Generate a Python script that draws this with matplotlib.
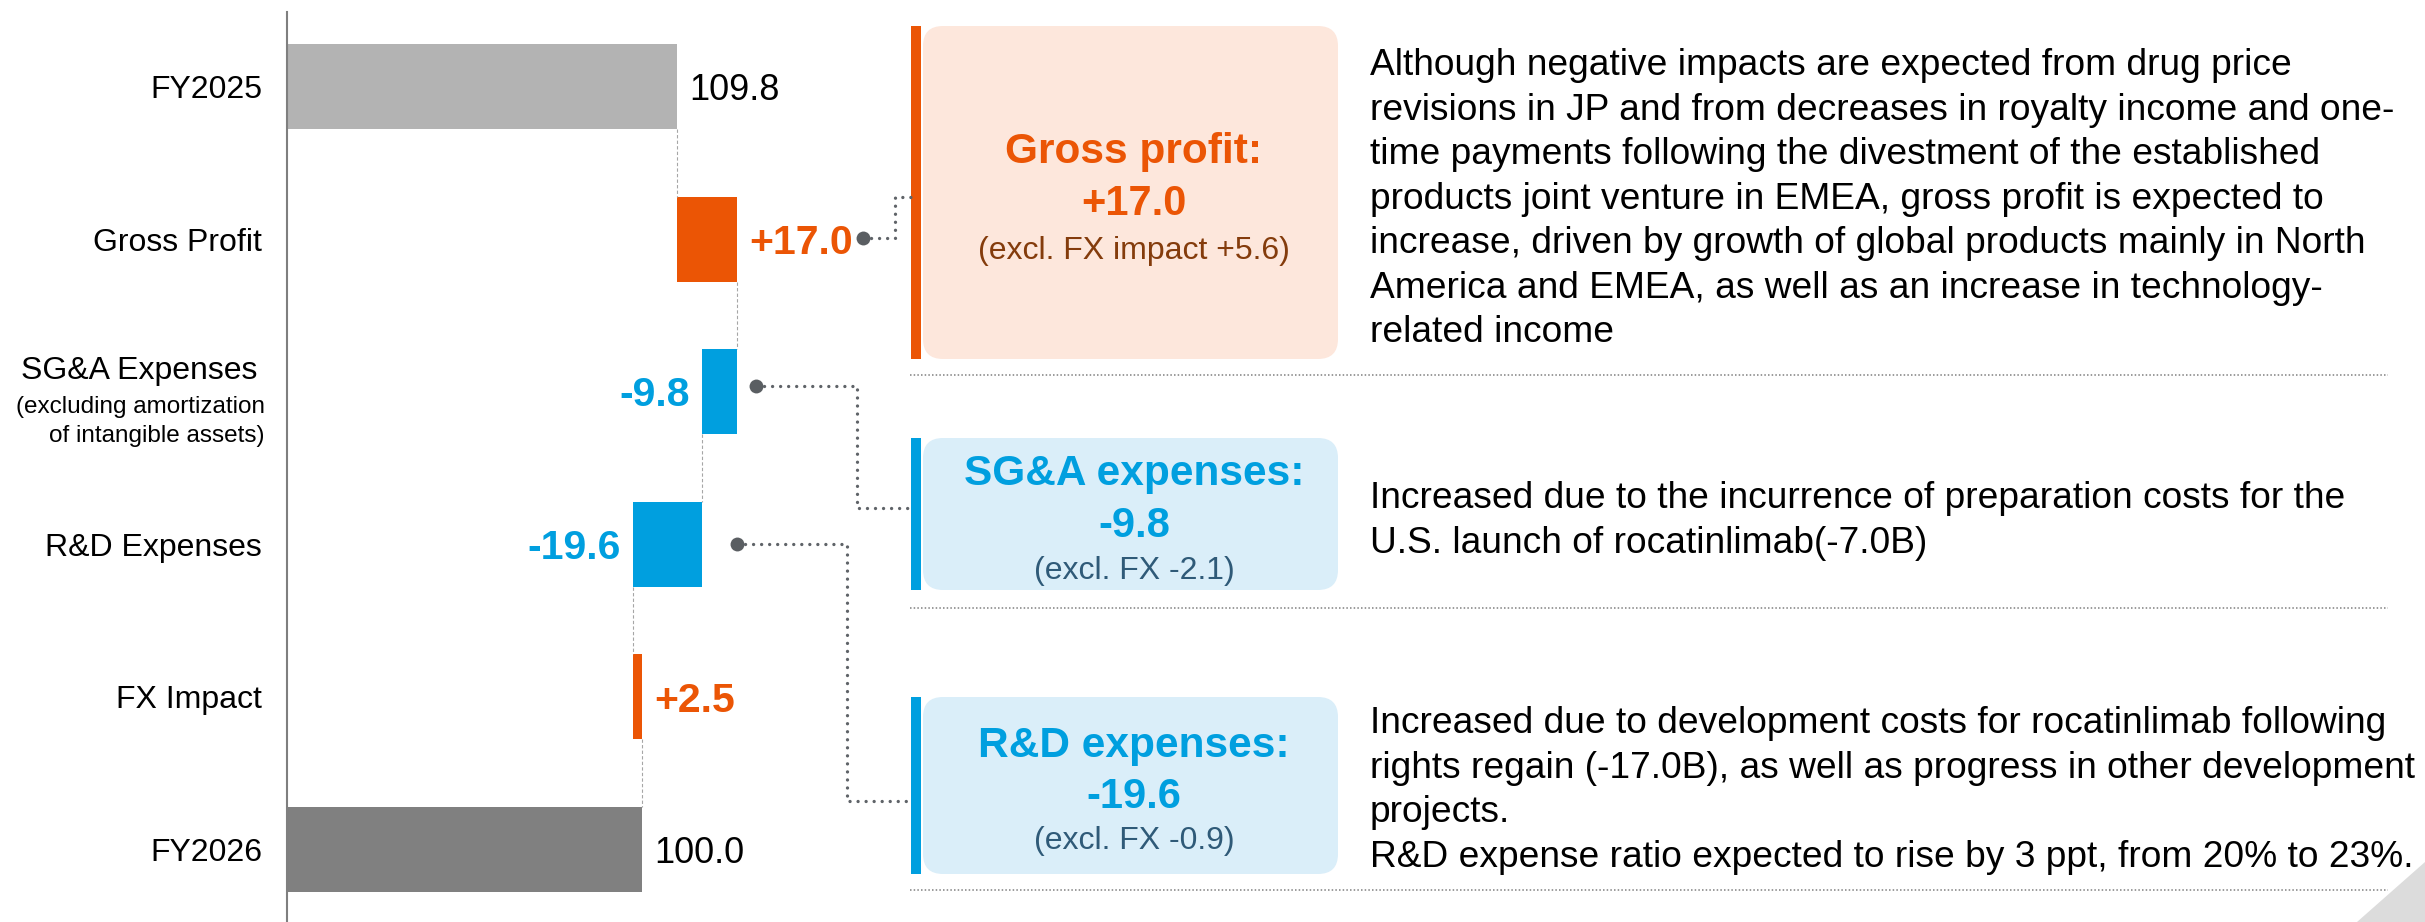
import matplotlib
matplotlib.use("Agg")
import matplotlib.pyplot as plt
from matplotlib.patches import FancyBboxPatch, Rectangle, Polygon

plt.rcParams['font.family'] = ['Liberation Sans', 'DejaVu Sans']

# ---- data ----
categories = ["FY2025", "Gross Profit", "SG&A Expenses", "R&D Expenses", "FX Impact", "FY2026"]
changes = [109.8, 17.0, -9.8, -19.6, 2.5, 100.0]
is_total = [True, False, False, False, False, True]
value_labels = ["109.8", "+17.0", "-9.8", "-19.6", "+2.5", "100.0"]
sga_note_label = ["(excluding amortization", "of intangible assets)"]

box_titles = ["Gross profit:", "SG&A expenses:", "R&D expenses:"]
box_values = ["+17.0", "-9.8", "-19.6"]
box_subs = ["(excl. FX impact +5.6)", "(excl. FX -2.1)", "(excl. FX -0.9)"]

gross_note = [
    "Although negative impacts are expected from drug price",
    "revisions in JP and from decreases in royalty income and one-",
    "time payments following the divestment of the established",
    "products joint venture in EMEA, gross profit is expected to",
    "increase, driven by growth of global products mainly in North",
    "America and EMEA, as well as an increase in technology-",
    "related income",
]
sga_note = [
    "Increased due to the incurrence of preparation costs for the",
    "U.S. launch of rocatinlimab(-7.0B)",
]
rd_note = [
    "Increased due to development costs for rocatinlimab following",
    "rights regain (-17.0B), as well as progress in other development",
    "projects.",
    "R&D expense ratio expected to rise by 3 ppt, from 20% to 23%.",
]

# ---- colours ----
ORANGE = "#eb5505"
BLUE = "#009fdf"
GREY1 = "#b3b3b3"
GREY2 = "#808080"

W, H = 2425, 922
fig = plt.figure(figsize=(W / 100, H / 100), dpi=100)

# waterfall axes: zero at x=287px, 3.55 px per unit; rows 152.6 px apart
x0, ppu = 287, 3.55
xmax = 180
row0, pitch = 86.5, 152.6
top_px = 12
ax = fig.add_axes([x0 / W, 0, xmax * ppu / W, (H - top_px) / H])
ax.set_xlim(0, xmax)
ax.set_ylim((H - row0) / pitch, (top_px - row0) / pitch)
for s in ["top", "right", "bottom"]:
    ax.spines[s].set_visible(False)
ax.spines["left"].set_color("#7f7f7f")
ax.spines["left"].set_linewidth(1.5)
ax.set_xticks([])
ax.set_yticks([])
ax.patch.set_visible(False)

bar_h = 0.557
run = 0.0
ends = []
for i, (cat, chg, tot, lab) in enumerate(zip(categories, changes, is_total, value_labels)):
    if tot:
        left, width = 0, chg
        color = GREY1 if i == 0 else GREY2
        run = chg
        fs, fw, tc = 26, "normal", "black"
    else:
        left = min(run, run + chg)
        width = abs(chg)
        color = ORANGE if chg > 0 else BLUE
        run = run + chg
        fs, fw, tc = 29.5, "bold", color
    ax.barh(i, width, left=left, height=bar_h, color=color, edgecolor="none")
    ends.append(run)
    if tot or chg > 0:
        ax.annotate(lab, xy=(left + width, i), xytext=(9, -0.36 * fs), textcoords="offset points",
                    ha="left", va="baseline", fontsize=fs, fontweight=fw, color=tc)
    else:
        ax.annotate(lab, xy=(left, i), xytext=(-9, -0.36 * fs), textcoords="offset points",
                    ha="right", va="baseline", fontsize=fs, fontweight=fw, color=tc)
    # category label
    if cat.startswith("SG&A"):
        ax.annotate(cat, xy=(0, i), xycoords=("axes fraction", "data"), xytext=(-21, 17.5 - 0.36 * 23),
                    textcoords="offset points", ha="right", va="baseline", fontsize=23)
        for k, sub in enumerate(sga_note_label):
            ax.annotate(sub, xy=(0, i), xycoords=("axes fraction", "data"),
                        xytext=(-16, -9 - 21 * k - 0.36 * 17.5), textcoords="offset points",
                        ha="right", va="baseline", fontsize=17.5)
    else:
        ax.annotate(cat, xy=(0, i), xycoords=("axes fraction", "data"), xytext=(-18, -0.36 * 23),
                    textcoords="offset points", ha="right", va="baseline", fontsize=23)

# thin connectors between bars
for i in range(len(categories) - 1):
    ax.plot([ends[i], ends[i]], [i + bar_h / 2, i + 1 - bar_h / 2], color="#a6a6a6",
            lw=0.8, linestyle=(0, (3, 2)))

# ---- overlay in pixel coordinates ----
ov = fig.add_axes([0, 0, 1, 1])
ov.set_xlim(0, W)
ov.set_ylim(H, 0)
ov.axis("off")
ov.patch.set_visible(False)


def put(x, yc, s, size, **kw):
    ov.text(x, yc + size / 2, s, fontsize=size, va="baseline", **kw)


boxes = [
    dict(top=26, bot=359, ys=(148, 200, 247), fill="#fde7dc", bar=ORANGE, sub="#843c0c"),
    dict(top=438, bot=590, ys=(470, 522, 567), fill="#daeef9", bar=BLUE, sub="#2f5a78"),
    dict(top=697, bot=874, ys=(742, 793, 837), fill="#daeef9", bar=BLUE, sub="#2f5a78"),
]
for b, t, v, sb in zip(boxes, box_titles, box_values, box_subs):
    ov.add_patch(FancyBboxPatch((923, b["top"]), 1338 - 923, b["bot"] - b["top"],
                                boxstyle="round,pad=0,rounding_size=20",
                                facecolor=b["fill"], edgecolor="none"))
    ov.add_patch(Rectangle((911, b["top"]), 10, b["bot"] - b["top"], facecolor=b["bar"], edgecolor="none"))
    put(1134, b["ys"][0], t, 30.5, ha="center", fontweight="bold", color=b["bar"])
    put(1134, b["ys"][1], v, 30, ha="center", fontweight="bold", color=b["bar"])
    put(1134, b["ys"][2], sb, 23, ha="center", color=b["sub"])

# description texts
for lines, y_first in [(gross_note, 62), (sga_note, 495), (rd_note, 720)]:
    for k, line in enumerate(lines):
        put(1370, y_first + 44.5 * k, line, 26.7, ha="left", color="black")

# separators
for y in [375, 608, 890]:
    ov.plot([910, 2388], [y, y], color="#808080", lw=1.1, linestyle=(0, (1, 1.4)))

# dotted leaders with dots
leaders = [
    [(863, 238), (895, 238), (895, 197), (912, 197)],
    [(756, 386), (857, 386), (857, 508), (912, 508)],
    [(737, 544), (847, 544), (847, 801), (912, 801)],
]
for path in leaders:
    xs, ys = zip(*path)
    ov.plot(xs, ys, color="#5f6368", lw=2.4, linestyle=(0, (0.01, 2.4)), dash_capstyle="round")
    ov.plot(xs[0], ys[0], "o", color="#5a5e62", markersize=10, markeredgewidth=0)

# corner triangle
ov.add_patch(Polygon([(2425, 862), (2425, 922), (2357, 922)], closed=True, facecolor="#dcdcdc", edgecolor="none"))

fig.savefig("out.png", dpi=100)
